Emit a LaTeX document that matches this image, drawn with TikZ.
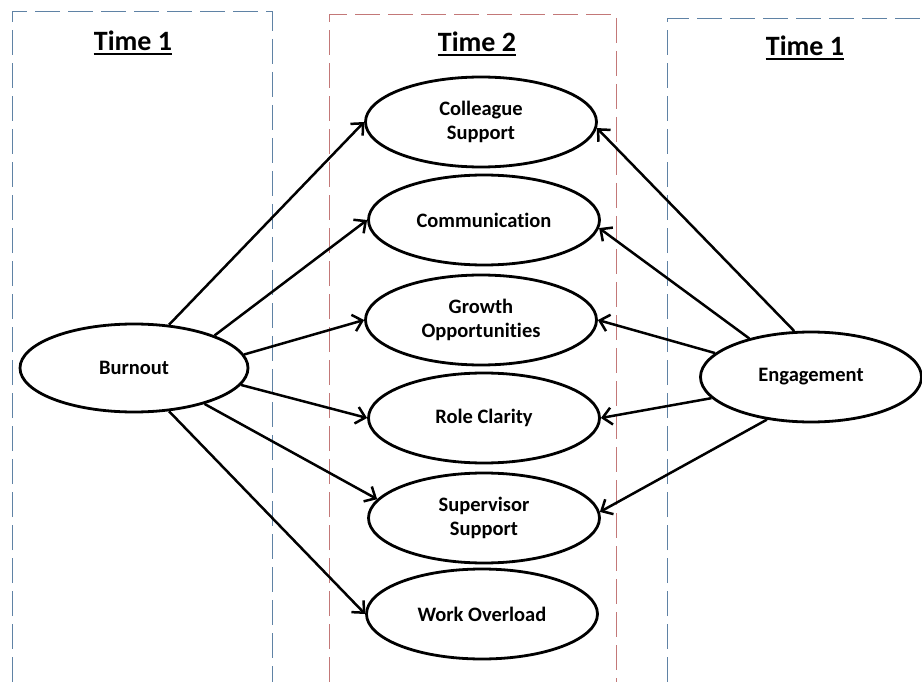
\documentclass[tikz,border=0pt]{standalone}
\usepackage{fontspec}
\setmainfont{Carlito}[Ligatures=NoCommon]
\usetikzlibrary{arrows.meta,shapes.geometric}
\definecolor{frameblue}{RGB}{95,130,165}
\definecolor{framered}{RGB}{195,120,120}
\tikzset{
	var/.style={draw, ellipse, line width=2.8pt, inner sep=0pt, align=center,
		minimum width=231pt, minimum height=90pt,
		font=\bfseries\fontsize{20.5}{24}\selectfont},
	link/.style={line width=2.5pt, -{Straight Barb[length=9pt,width=17pt]}},
	frame/.style={line width=1pt, dash pattern=on 25pt off 8pt},
	title/.style={inner sep=0pt, font=\bfseries\fontsize{28}{30}\selectfont},
}
\begin{document}
\begin{tikzpicture}[x=1pt,y=-1pt]
			\useasboundingbox (0,0) rectangle (922,682);
			% the three time frames
			\draw[frame,frameblue] (12,682) -- (12,12) -- (272,12) -- (272,682);
			\draw[frame,framered] (329,682) -- (329,15) -- (616,15) -- (616,682);
			\draw[frame,frameblue] (667,682) -- (667,19) -- (930,19);
			\node[title] (t1) at (133,41) {Time 1};
			\node[title] (t2) at (477,42) {Time 2};
			\node[title] (t3) at (805,46) {Time 1};
			\foreach \t in {t1,t2,t3}
				\draw[line width=2.2pt] ([yshift=-3pt]\t.south west) -- ([yshift=-3pt]\t.south east);
			% outcomes at time 2
			\node[var] (col) at (481,122) {Colleague\\Support};
			\node[var] (com) at (484,220) {Communication};
			\node[var] (gro) at (481,320) {Growth\\Opportunities};
			\node[var] (rol) at (484,418) {Role Clarity};
			\node[var] (sup) at (484,518) {Supervisor\\Support};
			\node[var] (wor) at (482,614) {Work Overload};
			% predictors at time 1
			\node[var, minimum width=228pt, minimum height=88pt] (bur) at (134,368) {Burnout};
			\node[var, minimum width=221pt] (eng) at (811,377) {Engagement};
			\draw[link] (bur.51) -- (col.west);
			\draw[link] (bur.22) -- (com.west);
			\draw[link] (bur.7) -- (gro.west);
			\draw[link] (bur.-9) -- (rol.west);
			\draw[link] (bur.-27) -- (sup.170);
			\draw[link] (bur.-51) -- (wor.west);
			\draw[link] (eng.110) -- (col.-3);
			\draw[link] (eng.148) -- (com.-4);
			\draw[link] (eng.166) -- (gro.east);
			\draw[link] (eng.192) -- (rol.east);
			\draw[link] (eng.224) -- (sup.3);
		\end{tikzpicture}
\end{document}
